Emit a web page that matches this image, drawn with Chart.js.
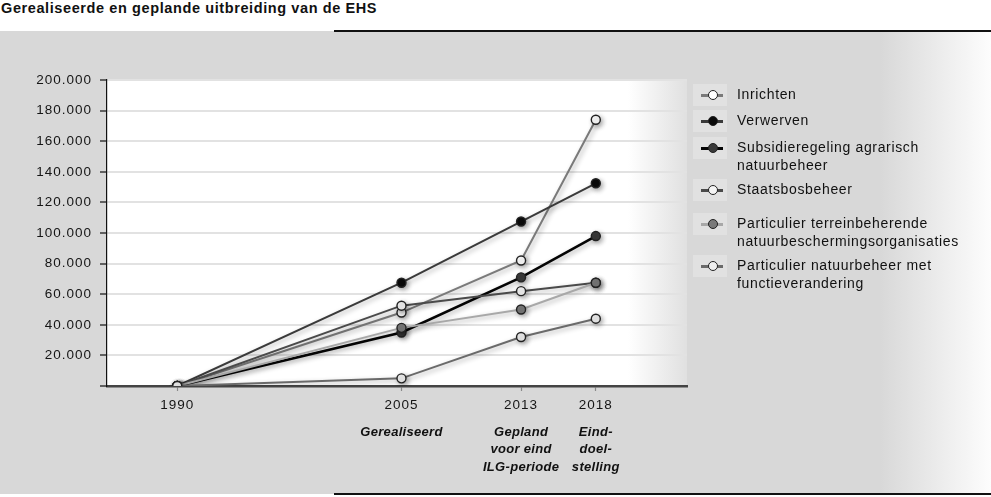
<!DOCTYPE html>
<html>
<head>
<meta charset="utf-8">
<script src="https://cdn.jsdelivr.net/npm/chart.js@4.4.1/dist/chart.umd.min.js"></script>
<style>
  html, body { margin: 0; padding: 0; background: #fff; }
  #wrap { position: relative; width: 991px; height: 497px; overflow: hidden; font-family: "Liberation Sans", Arial, Helvetica, sans-serif; }
  #title { position: absolute; left: 1px; top: 0px; font-size: 14.5px; font-weight: bold; color: #111; letter-spacing: 0.6px; line-height: 17px; }
  #panel { position: absolute; left: 0; top: 31px; width: 991px; height: 463px;
           background: linear-gradient(to right, #d8d8d8 0px, #d8d8d8 880px, #fdfdfd 991px); }
  #topline { position: absolute; left: 334px; top: 30px; width: 657px; height: 2px; background: #111; }
  #botline { position: absolute; left: 334px; top: 493px; width: 657px; height: 2px; background: #111; }
  #c { position: absolute; left: 0; top: 0; }
  .lg { position: absolute; left: 693px; }
  .lg .icon { position: absolute; left: 0; width: 34px; height: 22px; background: #e1e1e1; }
  .lg .icon .ln { position: absolute; left: 8px; top: 9.5px; width: 22px; height: 3px; }
  .lg .icon .mk { position: absolute; left: 15px; top: 6px; width: 8px; height: 8px; border-radius: 50%; border: 1.5px solid #222; }
  .lg .txt { position: absolute; left: 44px; top: 2px; font-size: 14px; line-height: 17.5px; color: #111; letter-spacing: 0.65px; white-space: nowrap; }
</style>
</head>
<body>
<div id="wrap">
  <div id="panel"></div>
  <div id="topline"></div>
  <div id="botline"></div>
  <div id="title">Gerealiseerde en geplande uitbreiding van de EHS</div>
  <canvas id="c" width="991" height="497"></canvas>
  <div id="legend"></div>
</div>
<script>
// ---- data ----
const years = [1990, 2005, 2013, 2018];
const periodLabels = [[], ["Gerealiseerd"], ["Gepland", "voor eind", "ILG-periode"], ["Eind-", "doel-", "stelling"]];
const seriesNames = [
  ["Inrichten"],
  ["Verwerven"],
  ["Subsidieregeling agrarisch", "natuurbeheer"],
  ["Staatsbosbeheer"],
  ["Particulier terreinbeherende", "natuurbeschermingsorganisaties"],
  ["Particulier natuurbeheer met", "functieverandering"]
];
const inrichten      = [0, 48000, 82000, 174000];
const verwerven      = [0, 67500, 107500, 132500];
const subsidie       = [0, 35000, 71000, 98000];
const staatsbos      = [0, 52500, 62000, 67500];
const particTerrein  = [0, 38000, 50000, 67500];
const particFunctie  = [0, 5000, 32000, 44000];
const yTicks = [0, 20000, 40000, 60000, 80000, 100000, 120000, 140000, 160000, 180000, 200000];

// ---- styles ----
const seriesValues = [inrichten, verwerven, subsidie, staatsbos, particTerrein, particFunctie];
const lineColors = ["#7a7a7a", "#3a3a3a", "#050505", "#4a4a4a", "#a8a8a8", "#6a6a6a"];
const markerFills = ["#ffffff", "#0a0a0a", "#3a3a3a", "#f4f4f4", "#7a7a7a", "#efefef"];
const lineWidths = [2, 2, 2.6, 2, 2, 2];

function fmtNL(v) {
  const s = String(Math.round(v));
  return s.replace(/\B(?=(\d{3})+(?!\d))/g, ".");
}

const datasets = seriesValues.map((vals, i) => ({
  label: seriesNames[i].join(" "),
  data: vals.map((v, k) => ({ x: years[k], y: v })),
  borderColor: lineColors[i],
  borderWidth: lineWidths[i],
  pointRadius: 4.5,
  pointBorderWidth: 1.4,
  pointBorderColor: "#222",
  pointBackgroundColor: markerFills[i],
  tension: 0,
  order: 6 - i
}));

const bgPlugin = {
  id: "bgPlugin",
  beforeDraw(chart) {
    const { ctx, chartArea: a } = chart;
    ctx.save();
    const g = ctx.createLinearGradient(a.left, 0, a.right, 0);
    const w = a.right - a.left;
    g.addColorStop(0, "#ffffff");
    g.addColorStop((628 - a.left) / w, "#ffffff");
    g.addColorStop(1, "#e0e0e0");
    ctx.fillStyle = g;
    ctx.fillRect(a.left, a.top, w, a.bottom - a.top);
    ctx.restore();
    ctx.letterSpacing = "1px";
  },
  beforeDatasetsDraw(chart) {
    const ctx = chart.ctx;
    ctx.save();
    ctx.shadowColor = "rgba(0,0,0,0.32)";
    ctx.shadowBlur = 5;
    ctx.shadowOffsetX = 2;
    ctx.shadowOffsetY = 2;
  },
  afterDatasetsDraw(chart) {
    chart.ctx.restore();
  },
  afterDraw(chart) {
    const ctx = chart.ctx;
    const xs = chart.scales.x;
    ctx.save();
    ctx.font = "italic bold 13px 'Liberation Sans', Arial, sans-serif";
    ctx.letterSpacing = "0.3px";
    ctx.fillStyle = "#111";
    ctx.textAlign = "center";
    ctx.textBaseline = "middle";
    years.forEach((yr, k) => {
      const px = xs.getPixelForValue(yr);
      periodLabels[k].forEach((t, j) => {
        ctx.fillText(t, px, 432 + j * 17.5);
      });
    });
    ctx.restore();
  }
};

new Chart(document.getElementById("c"), {
  type: "line",
  data: { datasets },
  options: {
    responsive: false,
    animation: false,
    devicePixelRatio: 1,
    layout: { padding: { top: 80, right: 304, bottom: 81, left: 0 } },
    plugins: { legend: { display: false }, tooltip: { enabled: false } },
    scales: {
      x: {
        type: "linear",
        min: 1985.3,
        max: 2024.1,
        afterBuildTicks: (s) => { s.ticks = years.map(v => ({ value: v })); },
        afterFit: (s) => { s.height = 30; },
        ticks: {
          callback: (v) => String(v),
          font: { family: "'Liberation Sans', Arial, sans-serif", size: 13.5 },
          color: "#151515",
          padding: 6,
          maxRotation: 0,
          autoSkip: false
        },
        grid: { drawOnChartArea: false, drawTicks: true, tickLength: 5, tickColor: "#8a8a8a", tickWidth: 1.2 },
        border: { display: true, color: "#444", width: 2.5 }
      },
      y: {
        min: 0,
        max: 200000,
        afterBuildTicks: (s) => { s.ticks = yTicks.map(v => ({ value: v })); },
        afterFit: (s) => { s.width = 107; },
        ticks: {
          callback: (v) => v === 0 ? "" : fmtNL(v),
          font: { family: "'Liberation Sans', Arial, sans-serif", size: 13.5 },
          color: "#151515",
          padding: 8
        },
        grid: { color: "#e2e2e2", lineWidth: 2, drawTicks: true, tickLength: 7, tickColor: "#111", tickWidth: 1.2 },
        border: { display: true, color: "#111", width: 1.2 }
      }
    }
  },
  plugins: [bgPlugin]
});

// ---- legend (HTML) ----
const legendTops = [84, 110, 137, 179, 213, 255];
const legendEl = document.getElementById("legend");
seriesNames.forEach((lines, i) => {
  const item = document.createElement("div");
  item.className = "lg";
  item.style.top = legendTops[i] + "px";
  const icon = document.createElement("div");
  icon.className = "icon";
  const ln = document.createElement("div");
  ln.className = "ln";
  ln.style.background = lineColors[i];
  const mk = document.createElement("div");
  mk.className = "mk";
  mk.style.background = markerFills[i];
  icon.appendChild(ln); icon.appendChild(mk);
  const txt = document.createElement("div");
  txt.className = "txt";
  txt.innerHTML = lines.join("<br>");
  item.appendChild(icon); item.appendChild(txt);
  legendEl.appendChild(item);
});
</script>
</body>
</html>
